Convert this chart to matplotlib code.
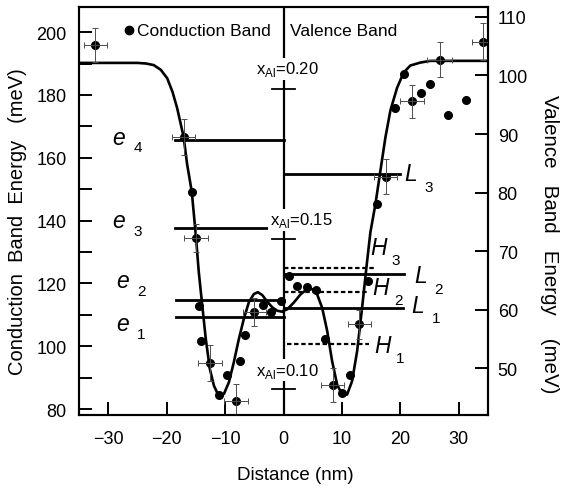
import numpy as np
import matplotlib
matplotlib.use("Agg")
import matplotlib.pyplot as plt
from matplotlib.ticker import MultipleLocator

plt.rcParams['font.family'] = ['Liberation Sans', 'DejaVu Sans']
plt.rcParams['mathtext.fontset'] = 'custom'
plt.rcParams['mathtext.rm'] = 'Liberation Sans'

# conduction band data (left axis, meV)
cb_x = [-32.2, -17.1, -15.7, -15.0, -14.4, -14.1, -12.6, -11.1, -9.6, -8.1, -7.5, -6.6, -5.0, -3.5, -2.2, -0.5]
cb_E = [195.9, 166.7, 149.2, 134.5, 112.9, 101.6, 94.6, 84.5, 90.8, 82.5, 95.3, 103.6, 110.8, 113.1, 111.0, 114.5]
cb_err_x = [-32.2, -17.1, -15.0, -12.6, -8.1, -5.0]
cb_err_E = [195.9, 166.7, 134.5, 94.6, 82.5, 110.8]
cb_xerr = [2.0, 2.0, 2.0, 2.0, 2.0, 2.0]
cb_yerr = [5.5, 5.7, 4.5, 5.7, 5.4, 4.5]

# valence band data (right axis, meV)
vb_x = [0.9, 2.3, 4.05, 5.5, 7.06, 8.4, 10.0, 11.45, 13.0, 14.4, 16.0, 17.5, 19.0, 20.6,
        22.0, 23.5, 25.0, 26.7, 28.15, 31.2, 34.2]
vb_V = [65.8, 64.05, 63.8, 63.4, 54.9, 47.1, 45.7, 48.8, 57.5, 64.9, 78.0, 82.7, 94.4, 100.3,
        95.6, 97.0, 98.6, 102.7, 93.2, 95.8, 105.8]
vb_err_x = [8.4, 13.0, 17.5, 22.0, 26.7, 34.2]
vb_err_V = [47.1, 57.5, 82.7, 95.6, 102.7, 105.8]
vb_xerr = [2.0, 2.0, 2.0, 2.0, 2.1, 2.0]
vb_yerr = [2.9, 2.5, 3.0, 2.85, 3.0, 3.1]

# fitted band profiles
cb_fit_x = [-35, -30, -25, -23.5, -22.2, -21.0, -19.9, -19.0, -18.2, -17.1, -16.5, -15.7, -15.0, -14.5,
            -13.9, -13.3, -12.6, -11.9, -11.1, -10.2, -9.35, -8.5, -7.64, -6.79, -5.93, -5.08,
            -4.39, -3.64, -2.79, -1.93, -1.08, 0.0]
cb_fit_E = [190.2, 190.2, 190.2, 190.0, 189.5, 188.0, 185.3, 181.0, 175.8, 166.7, 158.0, 149.2, 135.2,
            123.6, 112.9, 102.3, 92.7, 87.4, 84.2, 84.8, 88.5, 94.9, 102.3, 108.7, 114.0, 116.6,
            117.2, 116.3, 114.2, 112.4, 111.3, 110.9]
vb_fit_x = [0.0, 0.63, 1.76, 2.91, 4.05, 4.91, 5.76, 6.62, 7.47, 8.32, 9.18, 10.03, 10.89, 11.74,
            12.6, 13.45, 14.19, 14.87, 15.73, 16.58, 17.44, 18.29, 19.44, 20.56, 21.7, 23.4,
            25.1, 30.0, 35.0]
vb_fit_V = [59.8, 60.05, 61.2, 62.6, 63.5, 63.5, 62.6, 60.3, 56.4, 51.2, 47.2, 45.5, 45.5, 47.8,
            52.9, 60.3, 67.2, 73.2, 78.0, 83.7, 89.4, 94.0, 97.9, 100.5, 101.7, 102.2,
            102.5, 102.5, 102.5]

# confined levels
e_names = ['4', '3', '2', '1']
e_E = [165.7, 137.5, 114.7, 109.2]
e_x0 = [-18.6, -18.6, -18.4, -18.4]
e_x1 = [0.0, -2.7, 0.0, 0.0]
L_names = ['3', '2', '1']
L_V = [83.1, 66.15, 60.3]
L_x1 = [20.0, 20.7, 20.5]
H_names = ['3', '2', '1']
H_V = [67.1, 63.0, 54.1]
H_x0 = [0.0, 0.0, 0.6]
H_x1 = [15.7, 14.6, 14.7]

# Al fraction scale drawn on x = 0
xal_labels = ['0.20', '0.15', '0.10']
xal_tick_E = [181.9, 134.1, 86.4]

fig = plt.figure(figsize=(5.61, 4.89), dpi=100)
ax = fig.add_axes([79/561, 1-416/489, 409/561, 408/489])
ax2 = ax.twinx()

ax.set_xlim(-35, 35)
ax.set_ylim(78.1, 208.0)
ax2.set_ylim(42.0, 111.7)

lw_fit = 1.9
ax.plot(cb_fit_x, cb_fit_E, color='k', lw=lw_fit, zorder=3)
ax2.plot(vb_fit_x, vb_fit_V, color='k', lw=lw_fit, zorder=3)

ax.axvline(0, color='k', lw=1.6, zorder=2)
for E in xal_tick_E:
    ax.plot([-1.9, 1.9], [E, E], color='k', lw=1.3, zorder=2)

for n, E, x0, x1 in zip(e_names, e_E, e_x0, e_x1):
    ax.plot([x0, x1], [E, E], color='k', lw=2.0, zorder=2)
for n, V, x1 in zip(L_names, L_V, L_x1):
    ax2.plot([0, x1], [V, V], color='k', lw=2.0, zorder=2)
for n, V, x0, x1 in zip(H_names, H_V, H_x0, H_x1):
    ax2.plot([x0, x1], [V, V], color='k', lw=1.6, ls=(0, (2, 1.2)), zorder=2)

ax.plot(cb_x, cb_E, 'o', color='k', ms=5.5, zorder=4)
ax.errorbar(cb_err_x, cb_err_E, xerr=cb_xerr, yerr=cb_yerr, fmt='none', ecolor='0.3',
            elinewidth=0.7, capsize=2.5, capthick=0.7, zorder=4)
ax2.plot(vb_x, vb_V, 'o', color='k', ms=5.5, zorder=4)
ax2.errorbar(vb_err_x, vb_err_V, xerr=vb_xerr, yerr=vb_yerr, fmt='none', ecolor='0.3',
             elinewidth=0.7, capsize=2.5, capthick=0.7, zorder=4)

# level labels
e_lab_E = [166.6, 139.9, 120.8, 107.1]
e_lab_x = [-28.2, -28.2, -27.5, -27.5]
for n, x, E in zip(e_names, e_lab_x, e_lab_E):
    ax.text(x, E, 'e', style='italic', fontsize=16.5, ha='center', va='center')
    ax.text(x + 3.2, E - 3.3, n, fontsize=11, ha='center', va='center')
L_lab = [(21.7, 83.2), (23.4, 65.8), (22.9, 60.7)]
for n, (x, V) in zip(L_names, L_lab):
    ax2.text(x, V, 'L', style='italic', fontsize=16.5, ha='center', va='center')
    ax2.text(x + 3.2, V - 2.2, n, fontsize=11, ha='center', va='center')
H_lab = [(16.2, 70.6), (16.6, 63.8), (16.9, 53.8)]
for n, (x, V) in zip(H_names, H_lab):
    ax2.text(x, V, 'H', style='italic', fontsize=16.5, ha='center', va='center')
    ax2.text(x + 3.0, V - 2.1, n, fontsize=11, ha='center', va='center')

xal_pos = [(0.7, 188.3), (3.0, 140.2), (0.6, 92.4)]
for lab, (x, E) in zip(xal_labels, xal_pos):
    ax.text(x, E, r'x$_{\rm Al}$=' + lab, fontsize=12, ha='center', va='center', zorder=5,
            bbox=dict(facecolor='white', edgecolor='none', pad=1.0))

# legend-like header
ax.plot([0.122], [0.9436], 'o', color='k', ms=6, transform=ax.transAxes, clip_on=False)
ax.text(0.142, 0.9436, 'Conduction Band', fontsize=12.5, ha='left', va='center', transform=ax.transAxes)
ax.text(0.515, 0.9436, 'Valence Band', fontsize=12.5, ha='left', va='center', transform=ax.transAxes)

ax.xaxis.set_major_locator(MultipleLocator(10))
ax.yaxis.set_major_locator(MultipleLocator(20))
ax.yaxis.set_minor_locator(MultipleLocator(10))
ax2.yaxis.set_major_locator(MultipleLocator(10))
ax.tick_params(axis='both', which='both', direction='in', length=9.4, width=1.4, labelsize=13)
ax.tick_params(axis='x', pad=11)
ax.tick_params(axis='y', pad=9)
ax.tick_params(top=False)
ax2.tick_params(axis='y', direction='in', length=9.4, width=1.4, labelsize=13, pad=7)
for a in (ax, ax2):
    for s in a.spines.values():
        s.set_linewidth(1.5)

fig.text(18/561, 1-222/489, 'Conduction  Band  Energy   (meV)', rotation=90, fontsize=14.5,
         ha='center', va='center')
fig.text(549/561, 1-244/489, 'Valence   Band   Energy    (meV)', rotation=270, fontsize=14.8,
         ha='center', va='center')
fig.text(295/561, 1-476/489, 'Distance (nm)', fontsize=13.5, ha='center', va='center')

fig.savefig('out.png', dpi=100)
